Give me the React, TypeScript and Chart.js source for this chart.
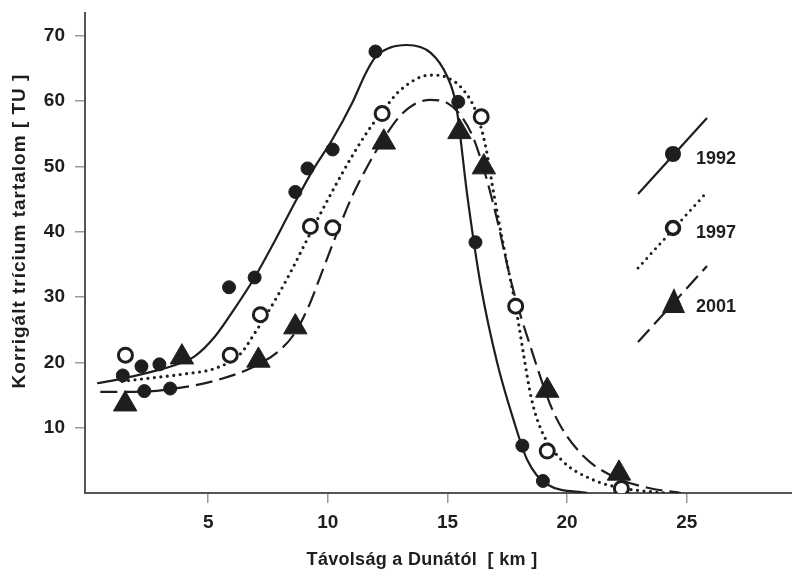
import React, { useEffect, useRef } from "react";
import { Chart, registerables } from "chart.js";

Chart.register(...registerables);

const FONT = '"Liberation Sans", Arial, Helvetica, sans-serif';
const INK = "#1e1e1e";

const X_TITLE = "Távolság a Dunától  [ km ]";
const Y_TITLE = "Korrigált trícium tartalom [ TU ]";
const X_TICKS = [5, 10, 15, 20, 25];
const Y_TICKS = [10, 20, 30, 40, 50, 60, 70];
const SERIES_LABELS = ["1992", "1997", "2001"];

// measured points
const pts1992 = [
  { x: 1.43, y: 18.0 }, { x: 2.21, y: 19.4 }, { x: 2.96, y: 19.7 }, { x: 2.33, y: 15.6 },
  { x: 3.41, y: 16.0 }, { x: 5.87, y: 31.5 }, { x: 6.94, y: 33.0 }, { x: 8.64, y: 46.1 },
  { x: 9.15, y: 49.7 }, { x: 10.2, y: 52.6 }, { x: 11.99, y: 67.6 }, { x: 15.45, y: 59.9 },
  { x: 16.17, y: 38.4 }, { x: 18.13, y: 7.25 }, { x: 18.99, y: 1.84 },
];
const pts1997 = [
  { x: 1.54, y: 21.1 }, { x: 5.92, y: 21.1 }, { x: 7.18, y: 27.3 }, { x: 9.27, y: 40.8 },
  { x: 10.2, y: 40.6 }, { x: 12.27, y: 58.1 }, { x: 16.41, y: 57.6 }, { x: 17.85, y: 28.6 },
  { x: 19.17, y: 6.43 }, { x: 22.27, y: 0.7 },
];
const pts2001 = [
  { x: 1.53, y: 13.6 }, { x: 3.9, y: 20.8 }, { x: 7.1, y: 20.3 }, { x: 8.64, y: 25.4 },
  { x: 12.34, y: 53.7 }, { x: 15.5, y: 55.3 }, { x: 16.52, y: 49.9 }, { x: 19.17, y: 15.7 },
  { x: 22.17, y: 3.0 },
];

// fitted curves
const curve1992 = [
  { x: 0.36, y: 16.8 }, { x: 1.53, y: 17.6 }, { x: 2.57, y: 18.5 }, { x: 3.62, y: 19.6 },
  { x: 4.46, y: 21.0 }, { x: 5.29, y: 24.0 }, { x: 6.06, y: 28.0 }, { x: 6.94, y: 33.0 },
  { x: 7.8, y: 38.7 }, { x: 8.64, y: 44.6 }, { x: 9.4, y: 49.6 }, { x: 10.2, y: 54.2 },
  { x: 11.0, y: 59.6 }, { x: 11.6, y: 64.4 }, { x: 12.0, y: 66.8 }, { x: 12.6, y: 68.2 },
  { x: 13.3, y: 68.6 }, { x: 14.3, y: 67.4 }, { x: 15.0, y: 63.7 }, { x: 15.35, y: 59.6 },
  { x: 15.83, y: 45.5 }, { x: 16.38, y: 32.0 }, { x: 17.08, y: 19.9 }, { x: 17.76, y: 11.2 },
  { x: 18.33, y: 5.1 }, { x: 19.17, y: 1.3 }, { x: 20.85, y: 0.0 },
];
const curve1997 = [
  { x: 1.4, y: 17.1 }, { x: 2.57, y: 17.6 }, { x: 3.96, y: 18.2 }, { x: 5.38, y: 19.2 },
  { x: 6.34, y: 21.3 }, { x: 7.0, y: 24.8 }, { x: 7.87, y: 30.0 }, { x: 8.51, y: 34.3 },
  { x: 9.27, y: 39.8 }, { x: 10.23, y: 46.5 }, { x: 11.0, y: 51.5 }, { x: 11.65, y: 55.3 },
  { x: 12.4, y: 59.0 }, { x: 13.03, y: 61.7 }, { x: 14.29, y: 64.0 }, { x: 15.0, y: 63.6 },
  { x: 15.67, y: 61.7 }, { x: 16.2, y: 58.3 }, { x: 16.6, y: 53.0 }, { x: 16.95, y: 45.5 },
  { x: 17.4, y: 36.8 }, { x: 17.85, y: 28.6 }, { x: 18.2, y: 20.8 }, { x: 18.5, y: 14.6 },
  { x: 18.89, y: 9.9 }, { x: 19.73, y: 5.2 }, { x: 21.1, y: 2.0 }, { x: 22.24, y: 0.8 },
  { x: 24.04, y: 0.0 },
];
const curve2001 = [
  { x: 0.49, y: 15.5 }, { x: 1.87, y: 15.5 }, { x: 3.41, y: 15.9 }, { x: 5.38, y: 17.3 },
  { x: 6.88, y: 19.3 }, { x: 8.0, y: 21.9 }, { x: 8.64, y: 24.6 }, { x: 9.2, y: 28.6 },
  { x: 9.7, y: 33.3 }, { x: 10.23, y: 38.4 }, { x: 11.0, y: 45.3 }, { x: 11.65, y: 50.0 },
  { x: 12.34, y: 54.3 }, { x: 13.03, y: 57.8 }, { x: 13.6, y: 59.5 }, { x: 14.29, y: 60.2 },
  { x: 15.0, y: 59.7 }, { x: 15.6, y: 57.6 }, { x: 16.09, y: 54.3 }, { x: 16.55, y: 49.2 },
  { x: 17.0, y: 43.0 }, { x: 17.72, y: 31.5 }, { x: 18.47, y: 22.4 }, { x: 19.44, y: 12.3 },
  { x: 20.56, y: 6.1 }, { x: 21.94, y: 2.5 }, { x: 23.37, y: 0.8 }, { x: 24.75, y: 0.0 },
];

const decorPlugin = {
  id: "decor",
  afterDraw(chart: any) {
    const ctx = chart.ctx as CanvasRenderingContext2D;
    ctx.save();
    ctx.fillStyle = INK;
    ctx.strokeStyle = INK;
    ctx.textAlign = "center";
    ctx.textBaseline = "middle";
    ctx.font = `bold 18px ${FONT}`;
    (ctx as any).letterSpacing = "0.3px";
    ctx.fillText(X_TITLE, 422, 560);
    ctx.save();
    ctx.font = `bold 19px ${FONT}`;
    (ctx as any).letterSpacing = "1px";
    ctx.translate(20, 231);
    ctx.rotate(-Math.PI / 2);
    ctx.fillText(Y_TITLE, 0, 0);
    ctx.restore();
    (ctx as any).letterSpacing = "0px";

    // legend
    const cx = 673;
    const ys = [154, 228, 302];
    ys.forEach((cy, i) => {
      ctx.save();
      ctx.lineWidth = i === 1 ? 3 : 2.2;
      ctx.lineCap = i === 1 ? "round" : "butt";
      ctx.setLineDash(i === 0 ? [] : i === 1 ? [0, 6.5] : [17, 7]);
      ctx.beginPath();
      ctx.moveTo(cx - 35, cy + 40);
      ctx.lineTo(cx + 34, cy - 36);
      ctx.stroke();
      ctx.restore();
      ctx.beginPath();
      if (i === 0) {
        ctx.arc(cx, cy, 8, 0, Math.PI * 2);
        ctx.fill();
      } else if (i === 1) {
        ctx.save();
        ctx.fillStyle = "#fff";
        ctx.lineWidth = 3.5;
        ctx.arc(cx, cy, 6.5, 0, Math.PI * 2);
        ctx.fill();
        ctx.stroke();
        ctx.restore();
      } else {
        ctx.moveTo(cx + 1, cy - 14);
        ctx.lineTo(cx + 12, cy + 11);
        ctx.lineTo(cx - 11, cy + 11);
        ctx.closePath();
        ctx.fill();
      }
      ctx.textAlign = "left";
      ctx.font = `bold 18px ${FONT}`;
      ctx.fillText(SERIES_LABELS[i], 696, cy + 5);
    });
    ctx.restore();
  },
};

export default function App() {
  const ref = useRef<HTMLCanvasElement>(null);
  useEffect(() => {
    const lineDs = (data: any[], dash: number[], width: number, cap: string) => ({
      data,
      showLine: true,
      pointRadius: 0,
      borderColor: INK,
      borderWidth: width,
      borderDash: dash,
      borderCapStyle: cap,
      cubicInterpolationMode: "monotone",
      fill: false,
    });
    const chart = new Chart(ref.current!, {
      type: "scatter",
      data: {
        datasets: [
          { data: pts1997, pointStyle: "circle", pointRadius: 7, backgroundColor: "#fff", borderColor: INK, borderWidth: 3 },
          { data: pts1992, pointStyle: "circle", pointRadius: 6.5, backgroundColor: INK, borderColor: INK, borderWidth: 1 },
          { data: pts2001, pointStyle: "triangle", pointRadius: 13.5, backgroundColor: INK, borderColor: INK, borderWidth: 1 },
          lineDs(curve1992, [], 2.2, "butt"),
          lineDs(curve1997, [0, 6.5], 3.2, "round"),
          lineDs(curve2001, [17, 7], 2.2, "butt"),
        ] as any,
      },
      options: {
        animation: false,
        responsive: false,
        devicePixelRatio: 1,
        layout: { autoPadding: false, padding: { top: 13, right: 0, left: 0, bottom: 0 } },
        plugins: { legend: { display: false }, tooltip: { enabled: false } },
        scales: {
          x: {
            type: "linear",
            min: -0.15,
            max: 29.4,
            afterBuildTicks: (s: any) => { s.ticks = X_TICKS.map((v) => ({ value: v })); },
            afterFit: (s: any) => { s.height = 82; s.paddingLeft = 0; s.paddingRight = 0; },
            grid: { display: true, drawOnChartArea: false, drawTicks: true, tickLength: 10, color: "#999", lineWidth: 1.5 },
            border: { display: true, color: "#555", width: 2 },
            ticks: { color: INK, font: { family: FONT, size: 19, weight: "bold" }, padding: 8, maxRotation: 0 },
          },
          y: {
            type: "linear",
            min: 0,
            max: 73.5,
            afterBuildTicks: (s: any) => { s.ticks = Y_TICKS.map((v) => ({ value: v })); },
            afterFit: (s: any) => { s.width = 85; s.paddingTop = 0; s.paddingBottom = 0; },
            grid: { display: true, drawOnChartArea: false, drawTicks: true, tickLength: 10, color: "#999", lineWidth: 1.5 },
            border: { display: true, color: "#555", width: 2 },
            ticks: { color: INK, font: { family: FONT, size: 19, weight: "bold" }, padding: 10 },
          },
        },
      } as any,
      plugins: [decorPlugin],
    });
    return () => chart.destroy();
  }, []);
  return (
    <div style={{ position: "absolute", left: 0, top: 0, width: 792, height: 575, background: "#fff" }}>
      <canvas ref={ref} width={792} height={575} style={{ width: 792, height: 575, display: "block" }} />
    </div>
  );
}
